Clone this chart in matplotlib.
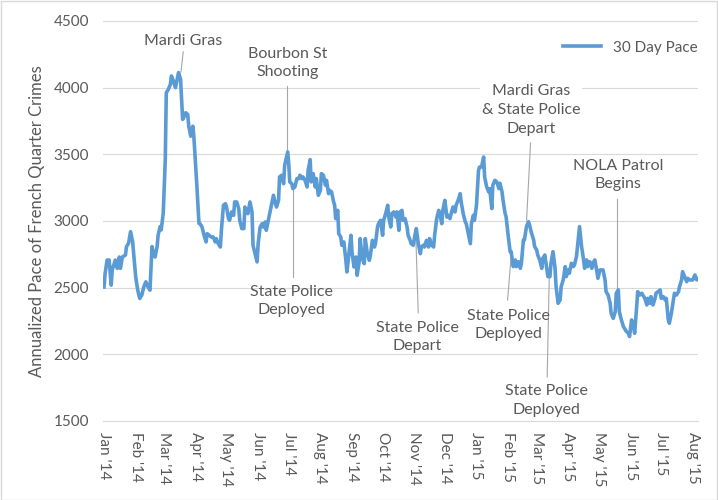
import numpy as np
import matplotlib
matplotlib.use("Agg")
import matplotlib.pyplot as plt
import matplotlib.dates as mdates
from matplotlib.patches import Rectangle

plt.rcParams['font.family'] = ['Lato', 'DejaVu Sans']

#------------------------------------
# 30 day pace (day offset from 1 Jan 2014, value)
days = [
    0, 1, 3, 5, 7, 8, 11, 13, 15, 16, 18, 21, 22, 24, 26, 28, 29, 31, 33, 35,
    37, 39, 41, 43, 45, 47, 48, 50, 52, 53, 55, 56, 58, 60, 61, 63, 65, 66, 68, 70,
    71, 73, 75, 77, 78, 80, 82, 83, 85, 87, 88, 91, 93,
    94, 96, 98, 100, 101, 103, 105, 107, 109, 110, 112, 114, 115, 117, 119, 120, 122, 123, 125, 127,
    128, 130, 132, 133, 135, 137, 138, 140, 141, 143, 145, 146, 148, 150, 151, 153, 155, 156, 158, 159,
    161, 163, 164, 166, 168, 169, 171, 172, 174, 176, 177, 180, 181, 182, 184, 185, 187, 189, 191,
    192, 194, 195, 197, 199, 200, 202, 203, 205, 207, 208, 210, 212, 213, 215, 217, 218, 220, 221, 223,
    225, 226, 227, 229, 230, 232, 233, 235, 237, 238, 240, 242, 243, 245, 247, 248, 250, 251, 253, 255,
    256, 258, 260, 261, 263, 265, 266, 268, 269, 271, 273, 274, 276, 278, 279, 281, 282, 284, 286, 287, 289,
    290, 292, 293, 295, 297, 298, 300, 301, 303, 305, 306, 308, 310, 311, 313, 314, 316, 318, 319, 321,
    323, 324, 326, 328, 329, 331, 332, 334, 336, 337, 339, 341, 342, 344, 345, 347, 349, 350, 352, 354,
    355, 357, 359, 360, 362, 363, 365, 367, 368, 370, 372, 373, 375, 377, 378, 380, 381, 383, 385, 387,
    388, 390, 391, 393, 394, 396, 398, 399, 401, 403, 404, 406, 408, 409, 411, 412, 414, 416, 417, 419,
    421, 422, 424, 425, 427, 429, 430, 432, 434, 435, 437, 438, 440, 442, 443, 445, 447, 448, 450, 452,
    453, 455, 456, 458, 460, 461, 463, 465, 466, 468, 470, 471, 473, 474, 476, 478, 479, 481, 483, 484,
    486, 487, 489, 491, 492, 494, 496, 497, 499, 501, 502, 504, 505, 507, 509, 510, 512, 514, 515, 517,
    519, 520, 522, 523, 525, 527, 528, 530, 532, 533, 535, 536, 538, 540, 541, 543, 545, 546, 548, 550,
    551, 553, 554, 556, 558, 559, 561, 563, 564, 566, 567, 569, 571, 572, 574, 576, 577, 579, 581, 582,
]
pace = [
    2505, 2605, 2707, 2707, 2519, 2632, 2707, 2645, 2730, 2645, 2730, 2745, 2808, 2833, 2920, 2845, 2757, 2582, 2481, 2419,
    2444, 2507, 2544, 2507, 2481, 2808, 2770, 2730, 2808, 2895, 2958, 2933, 3058, 3460, 3962, 3987, 4025, 4088, 4050, 4000,
    4038, 4113, 4063, 3762, 3774, 3812, 3799, 3711, 3636, 3711, 3636, 3259, 2983,
    2980, 2955, 2893, 2843, 2905, 2893, 2880, 2880, 2843, 2868, 2830, 2805, 2930, 3118, 3130, 3105, 3018, 3005, 3068, 3043,
    3143, 3143, 3093, 3005, 2943, 2943, 3105, 3068, 3055, 3143, 3068, 2818, 2755, 2693, 2830, 2955, 2980, 2955, 2993, 2930,
    3005, 3080, 3118, 3193, 3130, 3105, 3155, 3330, 3343, 3280, 3418, 3518, 3430, 3293, 3280, 3243, 3255, 3318, 3318,
    3343, 3318, 3330, 3305, 3255, 3380, 3460, 3293, 3355, 3255, 3318, 3193, 3230, 3355, 3343, 3268, 3305, 3205, 3230, 3218,
    3143, 3118, 3018, 3080, 2905, 2880, 2818, 2843, 2705, 2618, 2755, 2893, 2768, 2655, 2730, 2593, 2693, 2868, 2718, 2680,
    2868, 2755, 2705, 2743, 2855, 2805, 2830, 2955, 2980, 3005, 2893, 3005, 3055, 3118, 3030, 2955, 3055, 3068, 3030, 3068, 2930,
    3068, 3080, 3005, 3018, 2955, 2893, 2855, 2830, 2818, 2905, 2943, 2830, 2755, 2805, 2818, 2805, 2855, 2805, 2868, 2818,
    2805, 2893, 3018, 3080, 3055, 2980, 3080, 3155, 3030, 3043, 3018, 3080, 3105, 3068, 3118, 3155, 3205, 3143, 3055, 2993,
    2980, 2905, 2830, 2980, 3043, 3005, 3118, 3380, 3405, 3405, 3480, 3330, 3255, 3218, 3243, 3093, 3268, 3305, 3293, 3243,
    3283, 3220, 3158, 3058, 3033, 2895, 2770, 2770, 2658, 2708, 2658, 2695, 2645, 2683, 2858, 2858, 2958, 2995, 2970, 2908,
    2858, 2808, 2783, 2745, 2708, 2645, 2720, 2745, 2633, 2583, 2583, 2683, 2770, 2645, 2508, 2383, 2408, 2508, 2558, 2658,
    2583, 2633, 2608, 2683, 2658, 2670, 2733, 2883, 2958, 2808, 2708, 2645, 2708, 2658, 2695, 2645, 2683, 2708, 2620, 2570,
    2633, 2633, 2633, 2558, 2470, 2445, 2383, 2308, 2270, 2320, 2458, 2483, 2320, 2258, 2208, 2195, 2170, 2158, 2133, 2258,
    2208, 2158, 2358, 2470, 2445, 2458, 2445, 2420, 2370, 2420, 2383, 2433, 2370, 2420, 2458, 2470, 2483, 2420, 2433, 2408,
    2420, 2258, 2233, 2308, 2408, 2458, 2445, 2470, 2508, 2558, 2620, 2583, 2545, 2570, 2558, 2558, 2558, 2595, 2558, 2565,
]

# annotation text: (label, text day, text value, line top (day, value), line bottom (day, value))
notes = [
    ("Mardi Gras", 77.4, 4350, (77.6, 4268), (75.4, 4118)),
    ("Bourbon St\nShooting", 179.6, 4185, (179.6, 4013), (179.6, 3533)),
    ("State Police\nDeployed", 183.7, 2400, (184.8, 3270), (184.8, 2583)),
    ("State Police\nDepart", 306.9, 2130, (305.3, 2948), (307.9, 2312)),
    ("Mardi Gras\n& State Police\nDepart", 418.3, 3835, (418.0, 3585), (414.1, 3007)),
    ("State Police\nDeployed", 396.1, 2220, (399.4, 2775), (395.5, 2408)),
    ("State Police\nDeployed", 433.7, 1657, (436.4, 2610), (434.3, 1830)),
    ("NOLA Patrol\nBegins", 503.8, 3345, (503.2, 3163), (503.2, 2483)),
]

#------------------------------------
text_col = '#595959'
base = mdates.date2num(np.datetime64('2014-01-01'))
x = base + np.array(days)

fig = plt.figure(figsize=(7.18, 5), dpi=100)
ax = fig.add_axes([0.1435, 0.158, 0.8285, 0.8])

ax.plot(x, pace, color='#5B9BD5', linewidth=2.6, label='30 Day Pace', zorder=3)

for label, tx, ty, top, bot in notes:
    ax.plot([base + top[0], base + bot[0]], [top[1], bot[1]], color='#A6A6A6',
            linewidth=0.8, zorder=2)
    # only the three-line label sits on a gridline, which it blanks out
    box = dict(facecolor='white', edgecolor='none', pad=1) if label.count('\n') == 2 else None
    ax.text(base + tx, ty, label, ha='center', va='center', fontsize=11.5,
            color=text_col, linespacing=1.45, zorder=4, bbox=box)

ax.set_ylim(1500, 4500)
ax.set_yticks(np.arange(1500, 4501, 500))
ax.set_xlim(base - 1, base + 582)
ax.xaxis.set_major_locator(mdates.MonthLocator())
ax.xaxis.set_major_formatter(mdates.DateFormatter("%b '%y"))
plt.setp(ax.get_xticklabels(), rotation=270, ha='center', va='top')

ax.grid(axis='y', color='#D9D9D9', linewidth=0.8, zorder=0)
ax.set_axisbelow(True)
for s in ['top', 'right', 'left']:
    ax.spines[s].set_visible(False)
ax.spines['bottom'].set_color('#D9D9D9')
ax.spines['bottom'].set_linewidth(0.8)
ax.tick_params(axis='y', length=0, pad=10, labelsize=11, labelcolor=text_col)
ax.tick_params(axis='x', length=0, pad=8, labelsize=11, labelcolor=text_col)

ax.set_ylabel('Annualized Pace of French Quarter Crimes', fontsize=12, color=text_col)
ax.yaxis.set_label_coords(-0.097, 0.5)

ax.legend(loc='center right', bbox_to_anchor=(1.0, 0.933), frameon=False,
          fontsize=11, handlelength=2.5, borderaxespad=0, borderpad=0,
          labelcolor=text_col)

# chart border
fig.patches.append(Rectangle((0.001, 0.001), 0.997, 0.997, transform=fig.transFigure,
                             fill=False, edgecolor='#D9D9D9', linewidth=1))

fig.savefig('out.png', dpi=100)
